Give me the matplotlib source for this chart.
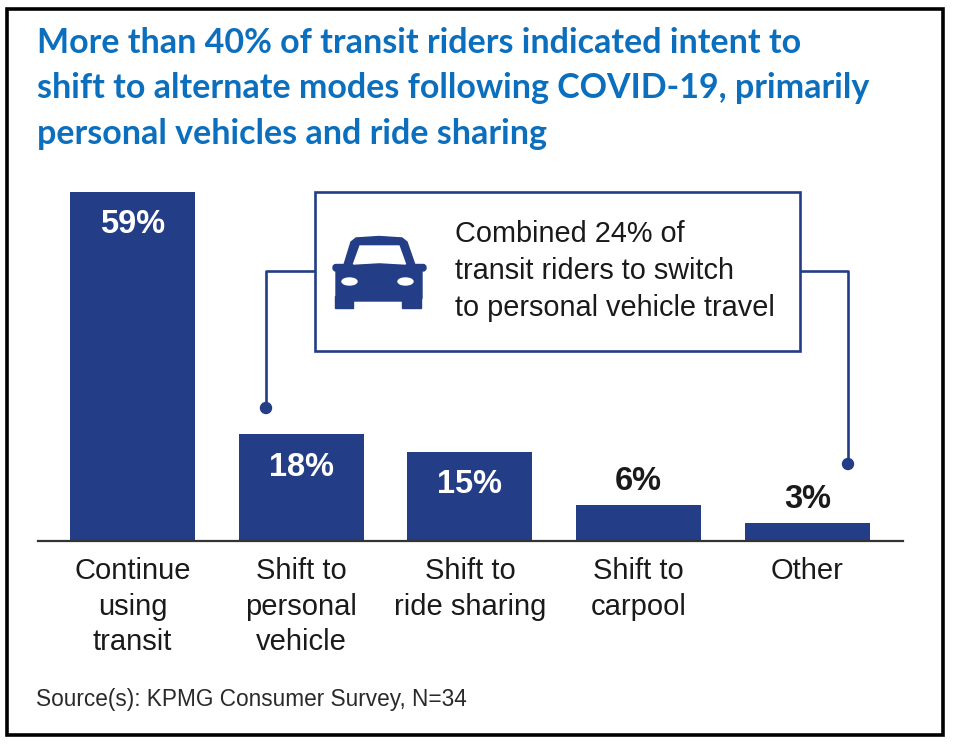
import matplotlib
matplotlib.use("Agg")
import matplotlib.pyplot as plt
from matplotlib.patches import Rectangle, Polygon, Ellipse, FancyBboxPatch

# ---------------- data ----------------
categories = ["Continue\nusing\ntransit", "Shift to\npersonal\nvehicle",
              "Shift to\nride sharing", "Shift to\ncarpool", "Other"]
values = [59, 18, 15, 6, 3]
value_labels = ["59%", "18%", "15%", "6%", "3%"]
label_inside = [True, True, True, False, False]
title_lines = ["More than 40% of transit riders indicated intent to",
               "shift to alternate modes following COVID-19, primarily",
               "personal vehicles and ride sharing"]
callout_text = "Combined 24% of\ntransit riders to switch\nto personal vehicle travel"
source_text = "Source(s): KPMG Consumer Survey, N=34"

BAR = "#233E86"
TITLE = "#0B6FBE"
TXT = "#1a1a1a"
REG = ["Liberation Sans", "DejaVu Sans"]
TFONT = ["Lato", "Liberation Sans", "DejaVu Sans"]

W, H = 954, 746
fig = plt.figure(figsize=(W / 100, H / 100), dpi=100)
fig.patch.set_facecolor("white")

# ---------------- bar axes ----------------
px_per_unit = 168.75
x0c = 132.5
ax_l, ax_r = 38, 903
base_y, top_y = 541, 180
px_per_pct = 5.92
ax = fig.add_axes([ax_l / W, (H - base_y) / H, (ax_r - ax_l) / W, (base_y - top_y) / H])
ax.set_xlim((ax_l - x0c) / px_per_unit, (ax_r - x0c) / px_per_unit)
ax.set_ylim(0, (base_y - top_y) / px_per_pct)
xs = list(range(len(values)))
ax.bar(xs, values, width=125 / px_per_unit, color=BAR, zorder=2)
for s in ["top", "right", "left"]:
    ax.spines[s].set_visible(False)
ax.spines["bottom"].set_color("#333333")
ax.spines["bottom"].set_linewidth(1.6)
ax.spines["bottom"].set_zorder(3)
ax.set_yticks([])
ax.set_xticks(xs)
ax.set_xticklabels(categories, fontsize=21, family=REG, color=TXT, linespacing=1.35)
ax.tick_params(axis="x", length=0, pad=11.5)
ax.patch.set_alpha(0)

for x, v, lab, inside in zip(xs, values, value_labels, label_inside):
    if inside:
        ax.annotate(lab, (x, v), xytext=(0, -23.5), textcoords="offset points",
                    ha="center", va="center", color="white", fontsize=23.5,
                    fontweight="bold", family=REG)
    else:
        ax.annotate(lab, (x, v), xytext=(0, 17), textcoords="offset points",
                    ha="center", va="center", color=TXT, fontsize=23.5,
                    fontweight="bold", family=REG)

# ---------------- overlay (pixel coords) ----------------
ov = fig.add_axes([0, 0, 1, 1], zorder=5)
ov.set_xlim(0, W)
ov.set_ylim(H, 0)
ov.axis("off")
ov.patch.set_alpha(0)

# outer frame
ov.add_patch(Rectangle((7.5, 8.5), 936, 726.5, fill=False, edgecolor="black", lw=2.6))

# title
for i, line in enumerate(title_lines):
    ov.text(37, 53 + i * 45.5, line, color=TITLE, fontsize=24.5, fontweight="bold",
            family=TFONT, ha="left", va="baseline")

# callout box
ov.add_patch(Rectangle((315, 192), 485, 159, fill=False, edgecolor=BAR, lw=1.9))
ov.text(455, 271, callout_text, fontsize=20.8, family=REG, color=TXT,
        ha="left", va="center", linespacing=1.42)

# connectors
ov.plot([315, 266, 266], [271, 271, 408], color=BAR, lw=1.9, solid_capstyle="butt")
ov.plot([800, 848, 848], [271, 271, 464], color=BAR, lw=1.9, solid_capstyle="butt")
ov.add_patch(Ellipse((266, 408), 11, 11, color=BAR))
ov.add_patch(Ellipse((848, 464), 11, 11, color=BAR))

# car icon
cabin = Polygon([(343, 268), (351, 242), (356, 238), (379, 236.5), (402, 238),
                 (407, 242), (416, 268)], closed=True, color=BAR)
ov.add_patch(cabin)
ov.add_patch(FancyBboxPatch((336, 265), 86, 36, boxstyle="round,pad=0,rounding_size=4",
                            color=BAR))
ov.add_patch(FancyBboxPatch((333, 264.5), 93, 6.5, boxstyle="round,pad=0,rounding_size=3",
                            color=BAR))
ov.add_patch(Rectangle((335.5, 296), 17.5, 12, color=BAR))
ov.add_patch(Rectangle((402, 296), 19, 12, color=BAR))
wind = Polygon([(353.5, 264), (360, 246), (399, 246), (405.5, 264),
                (379.5, 262.5)], closed=True, color="white")
ov.add_patch(wind)
ov.add_patch(Ellipse((349.5, 281.5), 15, 7, color="white"))
ov.add_patch(Ellipse((405.5, 281.5), 15, 7, color="white"))

# source
ov.text(36, 706, source_text, fontsize=16.3, family=REG, color="#2a2a2a",
        ha="left", va="baseline")

fig.savefig("out.png", dpi=100, facecolor="white")
